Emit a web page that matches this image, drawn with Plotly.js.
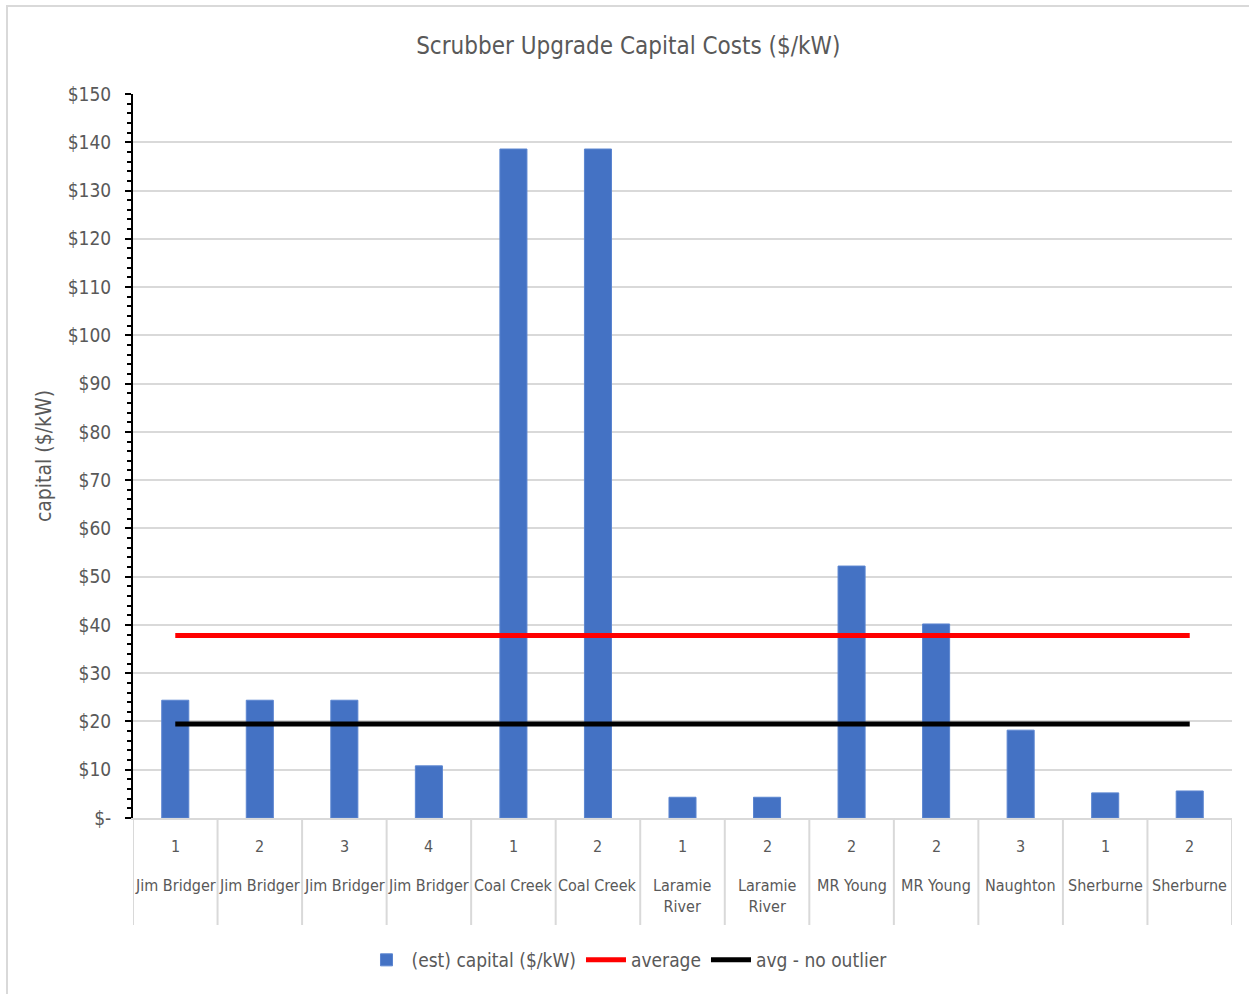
<!DOCTYPE html>
<html>
<head>
<meta charset="utf-8">
<script src="https://cdn.plot.ly/plotly-3.0.1.min.js"></script>
<style>
  html, body { margin: 0; padding: 0; background: #ffffff; }
  #wrap { position: relative; width: 1249px; height: 994px; }
  #chart { position: absolute; left: 0; top: 0; width: 1249px; height: 994px; }
  #frame { position: absolute; left: 6px; top: 5px; right: 0; bottom: 0;
           border-top: 2px solid #d9d9d9; border-left: 2px solid #d9d9d9;
           pointer-events: none; }
</style>
</head>
<body>
<div id="wrap">
  <div id="chart"></div>
  <div id="frame"></div>
</div>
<script>
// Plant units and estimated scrubber upgrade capital cost ($/kW)
const units  = ["1", "2", "3", "4", "1", "2", "1", "2", "2", "2", "3", "1", "2"];
const plants = ["Jim Bridger", "Jim Bridger", "Jim Bridger", "Jim Bridger",
                "Coal Creek", "Coal Creek", "Laramie<br>River", "Laramie<br>River",
                "MR Young", "MR Young", "Naughton", "Sherburne", "Sherburne"];
const capital = [24.4, 24.4, 24.4, 10.8, 138.6, 138.6, 4.3, 4.3, 52.2, 40.2, 18.2, 5.2, 5.6];

// Reference lines
const averageValue = 37.8;
const avgNoOutlierValue = 19.5;

// Y axis ticks
const yTickVals = [0, 10, 20, 30, 40, 50, 60, 70, 80, 90, 100, 110, 120, 130, 140, 150];
const yTickText = ["$-", "$10", "$20", "$30", "$40", "$50", "$60", "$70", "$80", "$90",
                   "$100", "$110", "$120", "$130", "$140", "$150"];

const FONT = '"DejaVu Sans Condensed", "Liberation Sans Narrow", "Liberation Sans", sans-serif';
const TEXT = '#595959';
const GRID = '#d9d9d9';

const idx = capital.map((_, i) => i);

const traces = [
  {
    type: 'bar', name: '(est) capital ($/kW)',
    x: idx, y: capital, width: 0.32,
    marker: { color: '#4472c4', line: { color: '#5b85d0', width: 1 } }
  },
  {
    type: 'scatter', mode: 'lines', name: 'average',
    x: idx, y: idx.map(() => averageValue),
    line: { color: '#ff0000', width: 5 }
  },
  {
    type: 'scatter', mode: 'lines', name: 'avg - no outlier',
    x: idx, y: idx.map(() => avgNoOutlierValue),
    line: { color: '#000000', width: 5 }
  }
];

// plot area height in px, used to place the two-row category labels
const plotH = 994 - 94 - 176;

const annotations = [];
idx.forEach(i => {
  annotations.push({
    x: i, xref: 'x', y: -28 / plotH, yref: 'paper',
    text: units[i], showarrow: false, xanchor: 'center', yanchor: 'middle',
    font: { family: FONT, size: 16, color: TEXT }
  });
  annotations.push({
    x: i, xref: 'x', y: -56 / plotH, yref: 'paper',
    text: plants[i], showarrow: false, xanchor: 'center', yanchor: 'top',
    font: { family: FONT, size: 16, color: TEXT }
  });
});

// vertical dividers between category cells
const shapes = [];
for (let i = 0; i <= capital.length; i++) {
  shapes.push({
    type: 'line', xref: 'x', yref: 'paper',
    x0: i - 0.5, x1: i - 0.5, y0: 0, y1: -107 / plotH,
    line: { color: GRID, width: 2 }
  });
}

const layout = {
  width: 1249, height: 994,
  margin: { l: 133, r: 17, t: 94, b: 176 },
  paper_bgcolor: '#ffffff', plot_bgcolor: '#ffffff',
  font: { family: FONT, color: TEXT },
  title: {
    text: 'Scrubber Upgrade Capital Costs ($/kW)',
    font: { family: FONT, size: 24, color: TEXT },
    x: 0.503, xref: 'container', xanchor: 'center',
    y: 1 - 46 / 994, yanchor: 'middle'
  },
  bargap: 0,
  xaxis: {
    range: [-0.5, capital.length - 0.5],
    showticklabels: false, ticks: '', showgrid: false,
    zeroline: false, showline: true, linecolor: GRID, linewidth: 2,
    fixedrange: true
  },
  yaxis: {
    range: [0, 150],
    tickmode: 'array', tickvals: yTickVals, ticktext: yTickText,
    tickfont: { family: FONT, size: 19, color: TEXT },
    ticklabelstandoff: 10,
    ticks: 'outside', ticklen: 6, tickwidth: 2, tickcolor: '#000000',
    showline: true, linecolor: '#000000', linewidth: 2,
    showgrid: true, gridcolor: GRID, gridwidth: 2,
    zeroline: false,
    minor: { tickmode: 'linear', tick0: 0, dtick: 2, ticks: 'outside',
             ticklen: 4, tickwidth: 2, tickcolor: '#000000', showgrid: false },
    title: { text: 'capital ($/kW)', font: { family: FONT, size: 21, color: TEXT }, standoff: 10 },
    fixedrange: true
  },
  legend: {
    orientation: 'h', xref: 'container', yref: 'container',
    x: 0.502, xanchor: 'center', y: 1 - 960 / 994, yanchor: 'middle',
    font: { family: FONT, size: 19, color: TEXT },
    itemwidth: 40, tracegroupgap: 0
  },
  annotations: annotations,
  shapes: shapes,
  showlegend: true
};

Plotly.newPlot('chart', traces, layout, { displayModeBar: false, staticPlot: true });
</script>
</body>
</html>
